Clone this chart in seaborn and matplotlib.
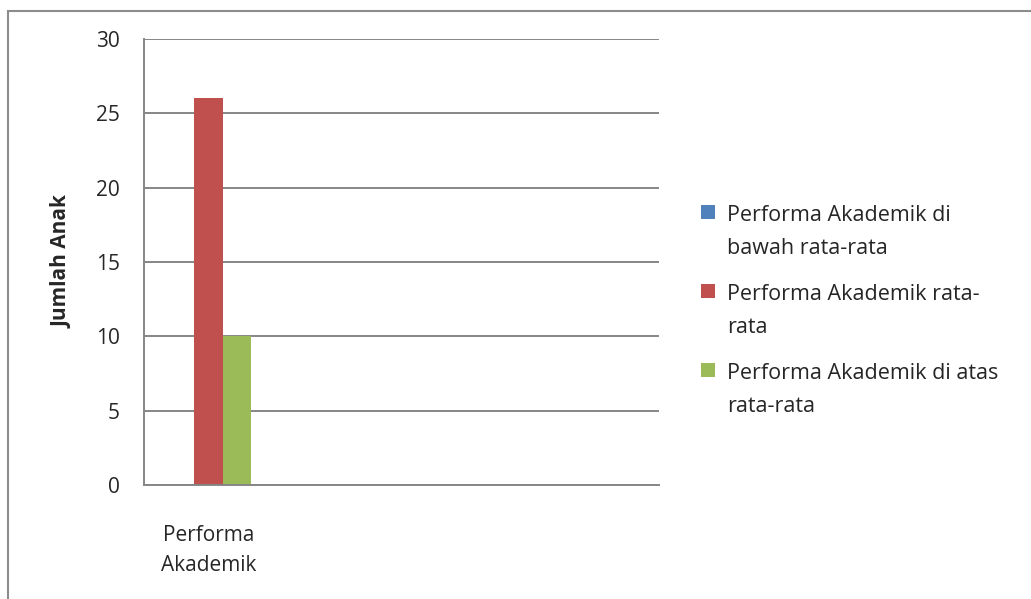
import pandas as pd
import numpy as np
import seaborn as sns
import matplotlib.pyplot as plt
from matplotlib.patches import Rectangle
from matplotlib.legend_handler import HandlerPatch

#%% data
kategori = ['Performa\nAkademik']
seri = ['Performa Akademik di\nbawah rata-rata',
        'Performa Akademik rata-\nrata',
        'Performa Akademik di atas\nrata-rata']
jumlah = [0, 26, 10]
warna = ['#4F81BD', '#C0504D', '#9BBB59']

df = pd.DataFrame({'kategori': kategori * len(seri), 'seri': seri, 'jumlah': jumlah})

#%% plot settings
sns.set_style('white')
plt.rcParams['font.family'] = ['Open Sans', 'DejaVu Sans']
grid_col = '#868686'

fig = plt.figure(figsize=(10.31, 5.99), dpi=100)
ax = fig.add_axes([0.1397, 0.1903, 0.639 - 0.1397, 0.9349 - 0.1903])

sns.barplot(data=df, x='kategori', y='jumlah', hue='seri', palette=warna,
            width=0.667, linewidth=0, saturation=1, ax=ax)

ax.set_xlim(-0.5, 3.5)
ax.set_ylim(0, 30)
ax.set_yticks(np.arange(0, 31, 5))
ax.yaxis.grid(True, color=grid_col, lw=1.4)
ax.set_axisbelow(True)
for s in ['top', 'right']:
    ax.spines[s].set_visible(False)
for s in ['left', 'bottom']:
    ax.spines[s].set_color(grid_col)
    ax.spines[s].set_linewidth(1.4)
ax.tick_params(axis='y', length=5.5, width=1.4, color=grid_col, pad=12, labelsize=15)
ax.tick_params(axis='x', length=0, pad=29, labelsize=15)
for t in ax.get_xticklabels():
    t.set_linespacing(1.55)
ax.set_xlabel('')
ax.set_ylabel('Jumlah Anak', fontsize=15, fontweight='bold', labelpad=17)


#%% legend, square aligned with first text line
def kotak(legend, orig_handle, xdescent, ydescent, width, height, fontsize):
    return Rectangle((-xdescent + 1.5, -ydescent + 15.5), 10, 10)

handles, labels = ax.get_legend_handles_labels()
leg = ax.legend(handles, labels, loc='center left', bbox_to_anchor=(1.04, 0.39),
                frameon=False, fontsize=15.5, labelspacing=1.2, handlelength=1.0,
                handletextpad=0.3, handler_map={h: HandlerPatch(patch_func=kotak) for h in handles})
for t in leg.get_texts():
    t.set_linespacing(1.7)

#%% outer border like the chart area
fig.patches.append(Rectangle((8 / 1031, -0.1), 1.2, 1.1 - 11 / 599, transform=fig.transFigure,
                             fill=False, edgecolor='#8c8c8c', lw=1.5))

plt.savefig('out.png', dpi=100)
plt.close()
